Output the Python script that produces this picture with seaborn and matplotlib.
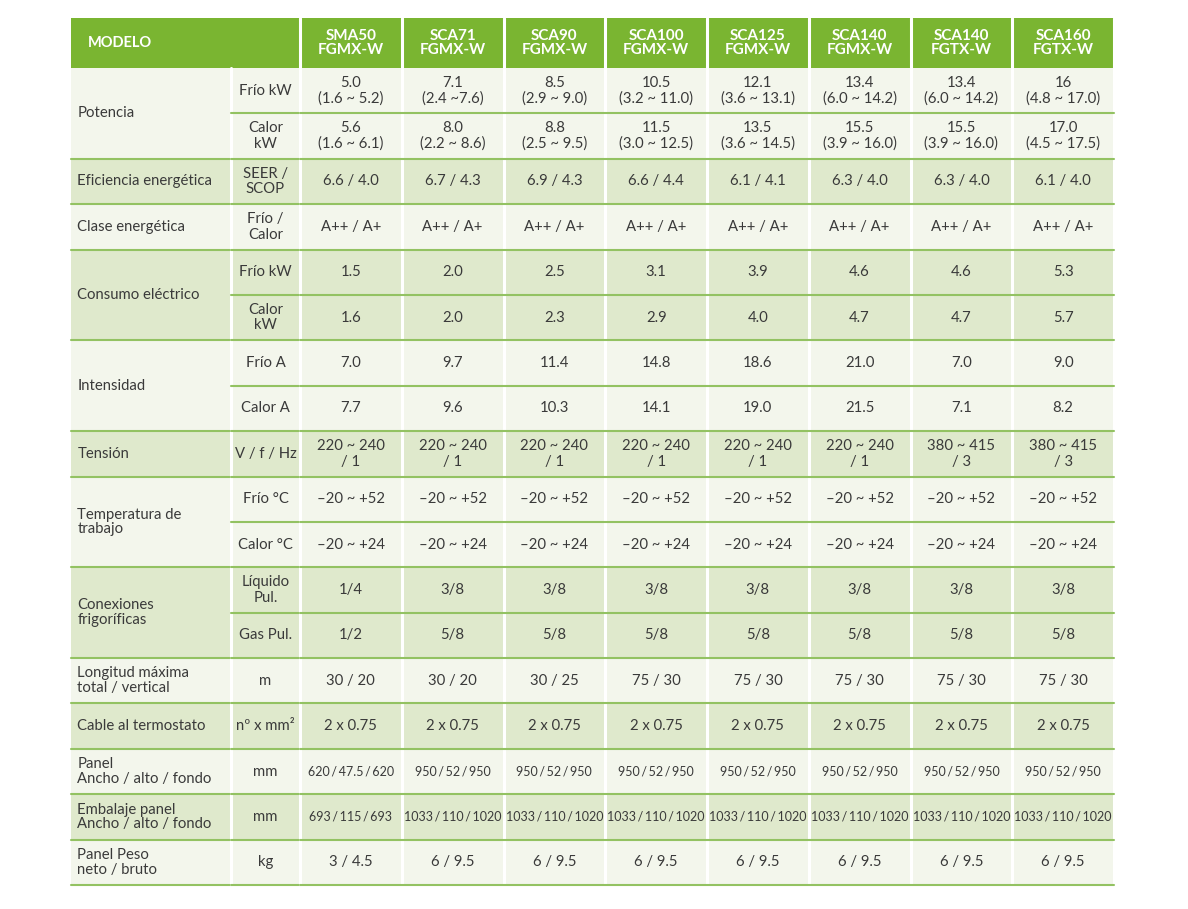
import numpy as np
import matplotlib.pyplot as plt
import seaborn as sns
from matplotlib.colors import ListedColormap
from matplotlib import font_manager

# Table content
models = ["SMA50\nFGMX-W", "SCA71\nFGMX-W", "SCA90\nFGMX-W", "SCA100\nFGMX-W",
          "SCA125\nFGMX-W", "SCA140\nFGMX-W", "SCA140\nFGTX-W", "SCA160\nFGTX-W"]

groups = ["Potencia", "Eficiencia energética", "Clase energética", "Consumo eléctrico",
          "Intensidad", "Tensión", "Temperatura de\ntrabajo", "Conexiones\nfrigoríficas",
          "Longitud máxima\ntotal / vertical", "Cable al termostato",
          "Panel\nAncho / alto / fondo", "Embalaje panel\nAncho / alto / fondo",
          "Panel Peso\nneto / bruto"]

subs = [["Frío kW", "Calor\nkW"], ["SEER /\nSCOP"], ["Frío /\nCalor"], ["Frío kW", "Calor\nkW"],
        ["Frío A", "Calor A"], ["V / f / Hz"], ["Frío °C", "Calor °C"], ["Líquido\nPul.", "Gas Pul."],
        ["m"], ["nº x mm²"], ["mm"], ["mm"], ["kg"]]

potencia_frio = ["5.0\n(1.6 ~ 5.2)", "7.1\n(2.4 ~7.6)", "8.5\n(2.9 ~ 9.0)", "10.5\n(3.2 ~ 11.0)",
                 "12.1\n(3.6 ~ 13.1)", "13.4\n(6.0 ~ 14.2)", "13.4\n(6.0 ~ 14.2)", "16\n(4.8 ~ 17.0)"]
potencia_calor = ["5.6\n(1.6 ~ 6.1)", "8.0\n(2.2 ~ 8.6)", "8.8\n(2.5 ~ 9.5)", "11.5\n(3.0 ~ 12.5)",
                  "13.5\n(3.6 ~ 14.5)", "15.5\n(3.9 ~ 16.0)", "15.5\n(3.9 ~ 16.0)", "17.0\n(4.5 ~ 17.5)"]
eficiencia = ["6.6 / 4.0", "6.7 / 4.3", "6.9 / 4.3", "6.6 / 4.4", "6.1 / 4.1", "6.3 / 4.0", "6.3 / 4.0", "6.1 / 4.0"]
clase = ["A++ / A+"] * 8
consumo_frio = ["1.5", "2.0", "2.5", "3.1", "3.9", "4.6", "4.6", "5.3"]
consumo_calor = ["1.6", "2.0", "2.3", "2.9", "4.0", "4.7", "4.7", "5.7"]
intensidad_frio = ["7.0", "9.7", "11.4", "14.8", "18.6", "21.0", "7.0", "9.0"]
intensidad_calor = ["7.7", "9.6", "10.3", "14.1", "19.0", "21.5", "7.1", "8.2"]
tension = ["220 ~ 240\n/ 1"] * 6 + ["380 ~ 415\n/ 3"] * 2
temp_frio = ["–20 ~ +52"] * 8
temp_calor = ["–20 ~ +24"] * 8
liquido = ["1/4"] + ["3/8"] * 7
gas = ["1/2"] + ["5/8"] * 7
longitud = ["30 / 20", "30 / 20", "30 / 25"] + ["75 / 30"] * 5
cable = ["2 x 0.75"] * 8
panel = ["620 / 47.5 / 620"] + ["950 / 52 / 950"] * 7
embalaje = ["693 / 115 / 693"] + ["1033 / 110 / 1020"] * 7
peso = ["3 / 4.5"] + ["6 / 9.5"] * 7

rows = [potencia_frio, potencia_calor, eficiencia, clase, consumo_frio, consumo_calor,
        intensidad_frio, intensidad_calor, tension, temp_frio, temp_calor, liquido, gas,
        longitud, cable, panel, embalaje, peso]

# Colours
GREEN = "#7ab531"
LIGHT = "#f3f6ec"
DARK = "#dfe9cc"
LINE = "#93c262"
TEXT = "#3a3a3a"

sns.set_theme(style="white")
plt.rcParams['font.family'] = ['Lato', 'DejaVu Sans']

# a condensed face for the long dimension rows, if one is available
installed = {f.name for f in font_manager.fontManager.ttflist}
if "Liberation Sans Narrow" in installed:
    narrow_kw = dict(family=["Liberation Sans Narrow", "Lato"], fontsize=10.2)
else:
    narrow_kw = dict(fontsize=9.0)

W, H = 1188, 909
fig = plt.figure(figsize=(W / 100, H / 100), dpi=100)


def px_axes(x0, y0, x1, y1):
    return fig.add_axes([x0 / W, 1 - y1 / H, (x1 - x0) / W, (y1 - y0) / H])


left, cat_right, sub_right, right = 71, 231, 300, 1114
top, head_bottom, bottom = 18, 68, 885

# row bookkeeping
group_sizes = [len(s) for s in subs]
bounds = np.concatenate([[0], np.cumsum(group_sizes)])
shade = np.concatenate([[g % 2] * n for g, n in enumerate(group_sizes)]).reshape(-1, 1).astype(float)
sub_labels = np.array([s for grp in subs for s in grp]).reshape(-1, 1)
values = np.array(rows)
n_rows, n_cols = values.shape
narrow_rows = [rows.index(panel), rows.index(embalaje)]

row_cmap = ListedColormap([LIGHT, DARK])
head_cmap = ListedColormap([GREEN])
common = dict(cbar=False, xticklabels=False, yticklabels=False, vmin=0, vmax=1)
FS = 10.7
LS = 1.15

# Header
ax_hl = px_axes(left, top, sub_right, head_bottom)
sns.heatmap(np.zeros((1, 1)), cmap=head_cmap, ax=ax_hl, **common)
ax_hl.text(0.075, 0.5, "MODELO", color="white", weight="bold", fontsize=10.5, va="center", ha="left")

ax_hm = px_axes(sub_right, top, right, head_bottom)
sns.heatmap(np.zeros((1, n_cols)), cmap=head_cmap, annot=np.array([models]), fmt="",
            annot_kws=dict(color="white", weight="bold", fontsize=11, linespacing=1.05),
            ax=ax_hm, **common)
for x in range(n_cols + 1):
    ax_hm.axvline(x, color="white", lw=2.2, clip_on=False)

# Category column
ax_cat = px_axes(left, head_bottom, cat_right, bottom)
sns.heatmap(shade, cmap=row_cmap, ax=ax_cat, **common)
for g, name in enumerate(groups):
    ax_cat.text(0.04, (bounds[g] + bounds[g + 1]) / 2, name, color=TEXT, fontsize=FS,
                ha="left", va="center", linespacing=1.05)
for b in bounds[1:]:
    ax_cat.axhline(b, color=LINE, lw=1.5, clip_on=False, zorder=3)

# Sub-label column
ax_sub = px_axes(cat_right, head_bottom, sub_right, bottom)
sns.heatmap(shade, cmap=row_cmap, annot=sub_labels, fmt="",
            annot_kws=dict(color=TEXT, fontsize=FS, linespacing=LS), ax=ax_sub, **common)
ax_sub.axvline(0, color="white", lw=2.2, clip_on=False)
for b in range(1, n_rows + 1):
    ax_sub.axhline(b, color=LINE, lw=1.5, clip_on=False, zorder=3)

# Data block
ax_data = px_axes(sub_right, head_bottom, right, bottom)
sns.heatmap(np.repeat(shade, n_cols, axis=1), cmap=row_cmap, annot=values, fmt="",
            annot_kws=dict(color=TEXT, fontsize=FS, linespacing=LS), ax=ax_data, **common)
for i, t in enumerate(ax_data.texts):
    if i // n_cols in narrow_rows:
        if "family" in narrow_kw:
            t.set_family(narrow_kw["family"])
        t.set_fontsize(narrow_kw["fontsize"])
        t.set_text(t.get_text().replace(" / ", "\u2009/\u2009"))
for x in range(n_cols + 1):
    ax_data.axvline(x, color="white", lw=2.2, clip_on=False, zorder=2)
for b in range(1, n_rows + 1):
    ax_data.axhline(b, color=LINE, lw=1.5, clip_on=False, zorder=3)

fig.savefig("out.png", dpi=100, facecolor="white")
